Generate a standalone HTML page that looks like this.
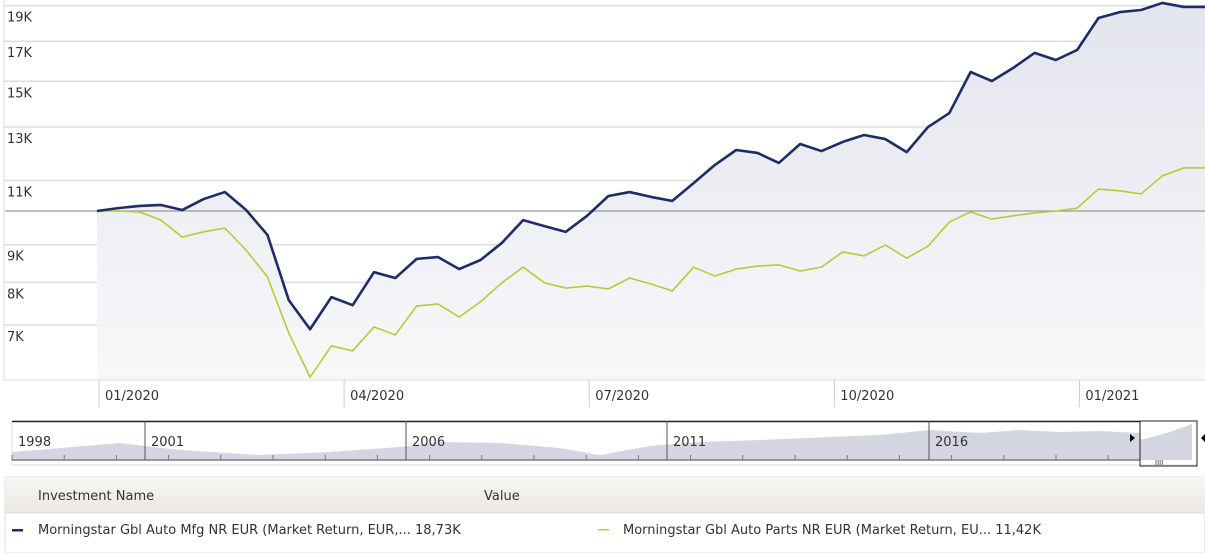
<!DOCTYPE html>
<html><head><meta charset="utf-8">
<style>
body{margin:0;width:1205px;height:553px;overflow:hidden;background:#fff;font-family:"Liberation Sans","DejaVu Sans",sans-serif;}
svg text{font-family:"DejaVu Sans","Liberation Sans",sans-serif;font-size:13px;fill:#333;}
</style></head><body>
<svg width="1205" height="553" id="svg">
<defs>
<linearGradient id="ag" x1="0" y1="0" x2="0" y2="1"><stop offset="0" stop-color="#e3e5ed"/><stop offset="1" stop-color="#f8f8fa"/></linearGradient>
<linearGradient id="hg" x1="0" y1="0" x2="0" y2="1"><stop offset="0" stop-color="#f7f6f3"/><stop offset="1" stop-color="#ebe8e3"/></linearGradient>
</defs>
<g id="grid"></g>
<path id="area" fill="url(#ag)"/>
<line x1="5" x2="1205" y1="211" y2="211" stroke="#999" stroke-width="1.2"/>
<polyline id="s2" fill="none" stroke="#b5cc3a" stroke-width="1.6"/>
<polyline id="s1" fill="none" stroke="#1f2d66" stroke-width="2.6" stroke-linejoin="round"/>
<line x1="4" x2="4" y1="0" y2="380" stroke="#ddd"/>
<line x1="4" x2="1205" y1="380" y2="380" stroke="#ddd"/>
<g id="xt"></g>
<g>
<rect x="12" y="421" width="1185" height="44" fill="#fff" stroke="#ddd"/>
<path d="M12 452 L60 448 L120 443 L145 446 L180 450 L260 455 L330 452 L400 447 L440 442 L500 443 L560 448 L600 455 L650 446 L700 442 L760 440 L830 437 L880 435 L930 430 L980 433 L1020 430 L1060 432 L1100 431 L1140 433 L1140 460 L12 460Z" fill="#d3d6e1"/>
<path d="M1140 440 L1170 432 L1192 424 L1192 460 L1140 460Z" fill="#d3d6e1"/>
<line x1="12" x2="1140" y1="421.5" y2="421.5" stroke="#222" stroke-width="1.5"/>
<line x1="12" x2="1140" y1="460" y2="460" stroke="#999" stroke-width="2"/>
<g id="nt"></g>
<rect x="1140" y="421" width="57" height="45" fill="none" stroke="#222" stroke-width="1"/>
<text x="1155" y="465" style="font-size:7px">IIII</text>
<path d="M1130 434 l5 4 l-5 4z" fill="#000"/><path d="M1205 434 l-4 4 l4 4z" fill="#000"/>
</g>
<g>
<rect x="5" y="477" width="1200" height="76" fill="#fff" stroke="#ddd"/>
<rect x="5" y="477" width="1200" height="36" fill="url(#hg)"/>
<line x1="5" x2="1205" y1="513" y2="513" stroke="#ddd"/>
<text x="38" y="500" style="font-size:13px">Investment Name</text>
<text x="484" y="500">Value</text>
<rect x="12" y="529" width="11" height="2.5" fill="#1f2d66"/>
<text x="38" y="534">Morningstar Gbl Auto Mfg NR EUR (Market Return, EUR,... 18,73K</text>
<rect x="598" y="529" width="11" height="1.5" fill="#b5cc3a"/>
<text x="623" y="534">Morningstar Gbl Auto Parts NR EUR (Market Return, EU...  11,42K</text>
</g>
</svg>
<script>
const mfg=[10,10.09,10.16,10.19,10.03,10.38,10.61,10.03,9.28,7.57,6.91,7.64,7.45,
8.26,8.11,8.61,8.66,8.34,8.58,9.05,9.72,9.54,9.37,9.85,10.48,10.61,10.45,10.32,10.91,11.55,12.10,11.99,11.62,
12.33,12.06,12.41,12.68,12.52,12.02,13.00,13.58,15.44,15.01,15.64,16.39,16.03,16.54,18.28,18.62,18.74,19.16,18.92,18.92];
const parts=[10,10,9.97,9.72,9.22,9.37,9.48,8.85,8.14,6.83,5.95,6.56,6.46,
6.96,6.79,7.43,7.48,7.18,7.53,7.99,8.39,7.99,7.86,7.91,7.84,8.11,7.96,7.79,8.39,8.16,8.34,8.42,8.45,
8.29,8.39,8.80,8.69,8.99,8.63,8.96,9.66,9.97,9.75,9.85,9.94,10.00,10.09,10.71,10.65,10.55,11.16,11.44,11.44];
const yTicks=[7,8,9,11,13,15,17,19];
const xLabels=["01/2020","04/2020","07/2020","10/2020","01/2021"];
const navLabels=["1998","2001","2006","2011","2016"];
const ns="http://www.w3.org/2000/svg";
const Y=v=>211-320*Math.log(v/10);
const X=i=>97+i*1108/(mfg.length-1);
const XM=m=>99+m*81.7;
function mk(t,a,p){const e=document.createElementNS(ns,t);for(const k in a)e.setAttribute(k,a[k]);p.appendChild(e);return e;}
const grid=document.getElementById('grid');
yTicks.forEach(v=>{const y=Y(v);
 const l=mk('line',{x1:4,x2:1205,y1:y,y2:y,stroke:'#ddd','stroke-width':1.5},grid);
 
 
 const t=mk('text',{x:7,y:y+16},grid);t.textContent=v+'K';
 
 
});
const p1=mfg.map((v,i)=>X(i)+','+Y(v)).join(' ');
document.getElementById('s1').setAttribute('points',p1);
document.getElementById('s2').setAttribute('points',parts.map((v,i)=>X(i)+','+Y(v)).join(' '));
document.getElementById('area').setAttribute('d','M'+X(0)+',380 L'+p1.split(' ').join(' L')+' L1205,380Z');
const xt=document.getElementById('xt');
xLabels.forEach((s,k)=>{const x=XM(k*3);
 mk('line',{x1:x,x2:x,y1:380,y2:407,stroke:'#ccc'},xt);
 const t=mk('text',{x:x+6,y:400},xt);t.textContent=s;
 
 
});
const nt=document.getElementById('nt');
const navX=[12,145,406,667,929];
navLabels.forEach((s,k)=>{const x=navX[k];
 if(k>0)mk('line',{x1:x,x2:x,y1:421,y2:460,stroke:'#555'},nt);
 const t=mk('text',{x:x+6,y:446},nt);t.textContent=s;
 
 
});
for(let x=12;x<1140;x+=52.2)mk('line',{x1:x,x2:x,y1:455,y2:460,stroke:'#777'},nt);
</script>
</body></html>
